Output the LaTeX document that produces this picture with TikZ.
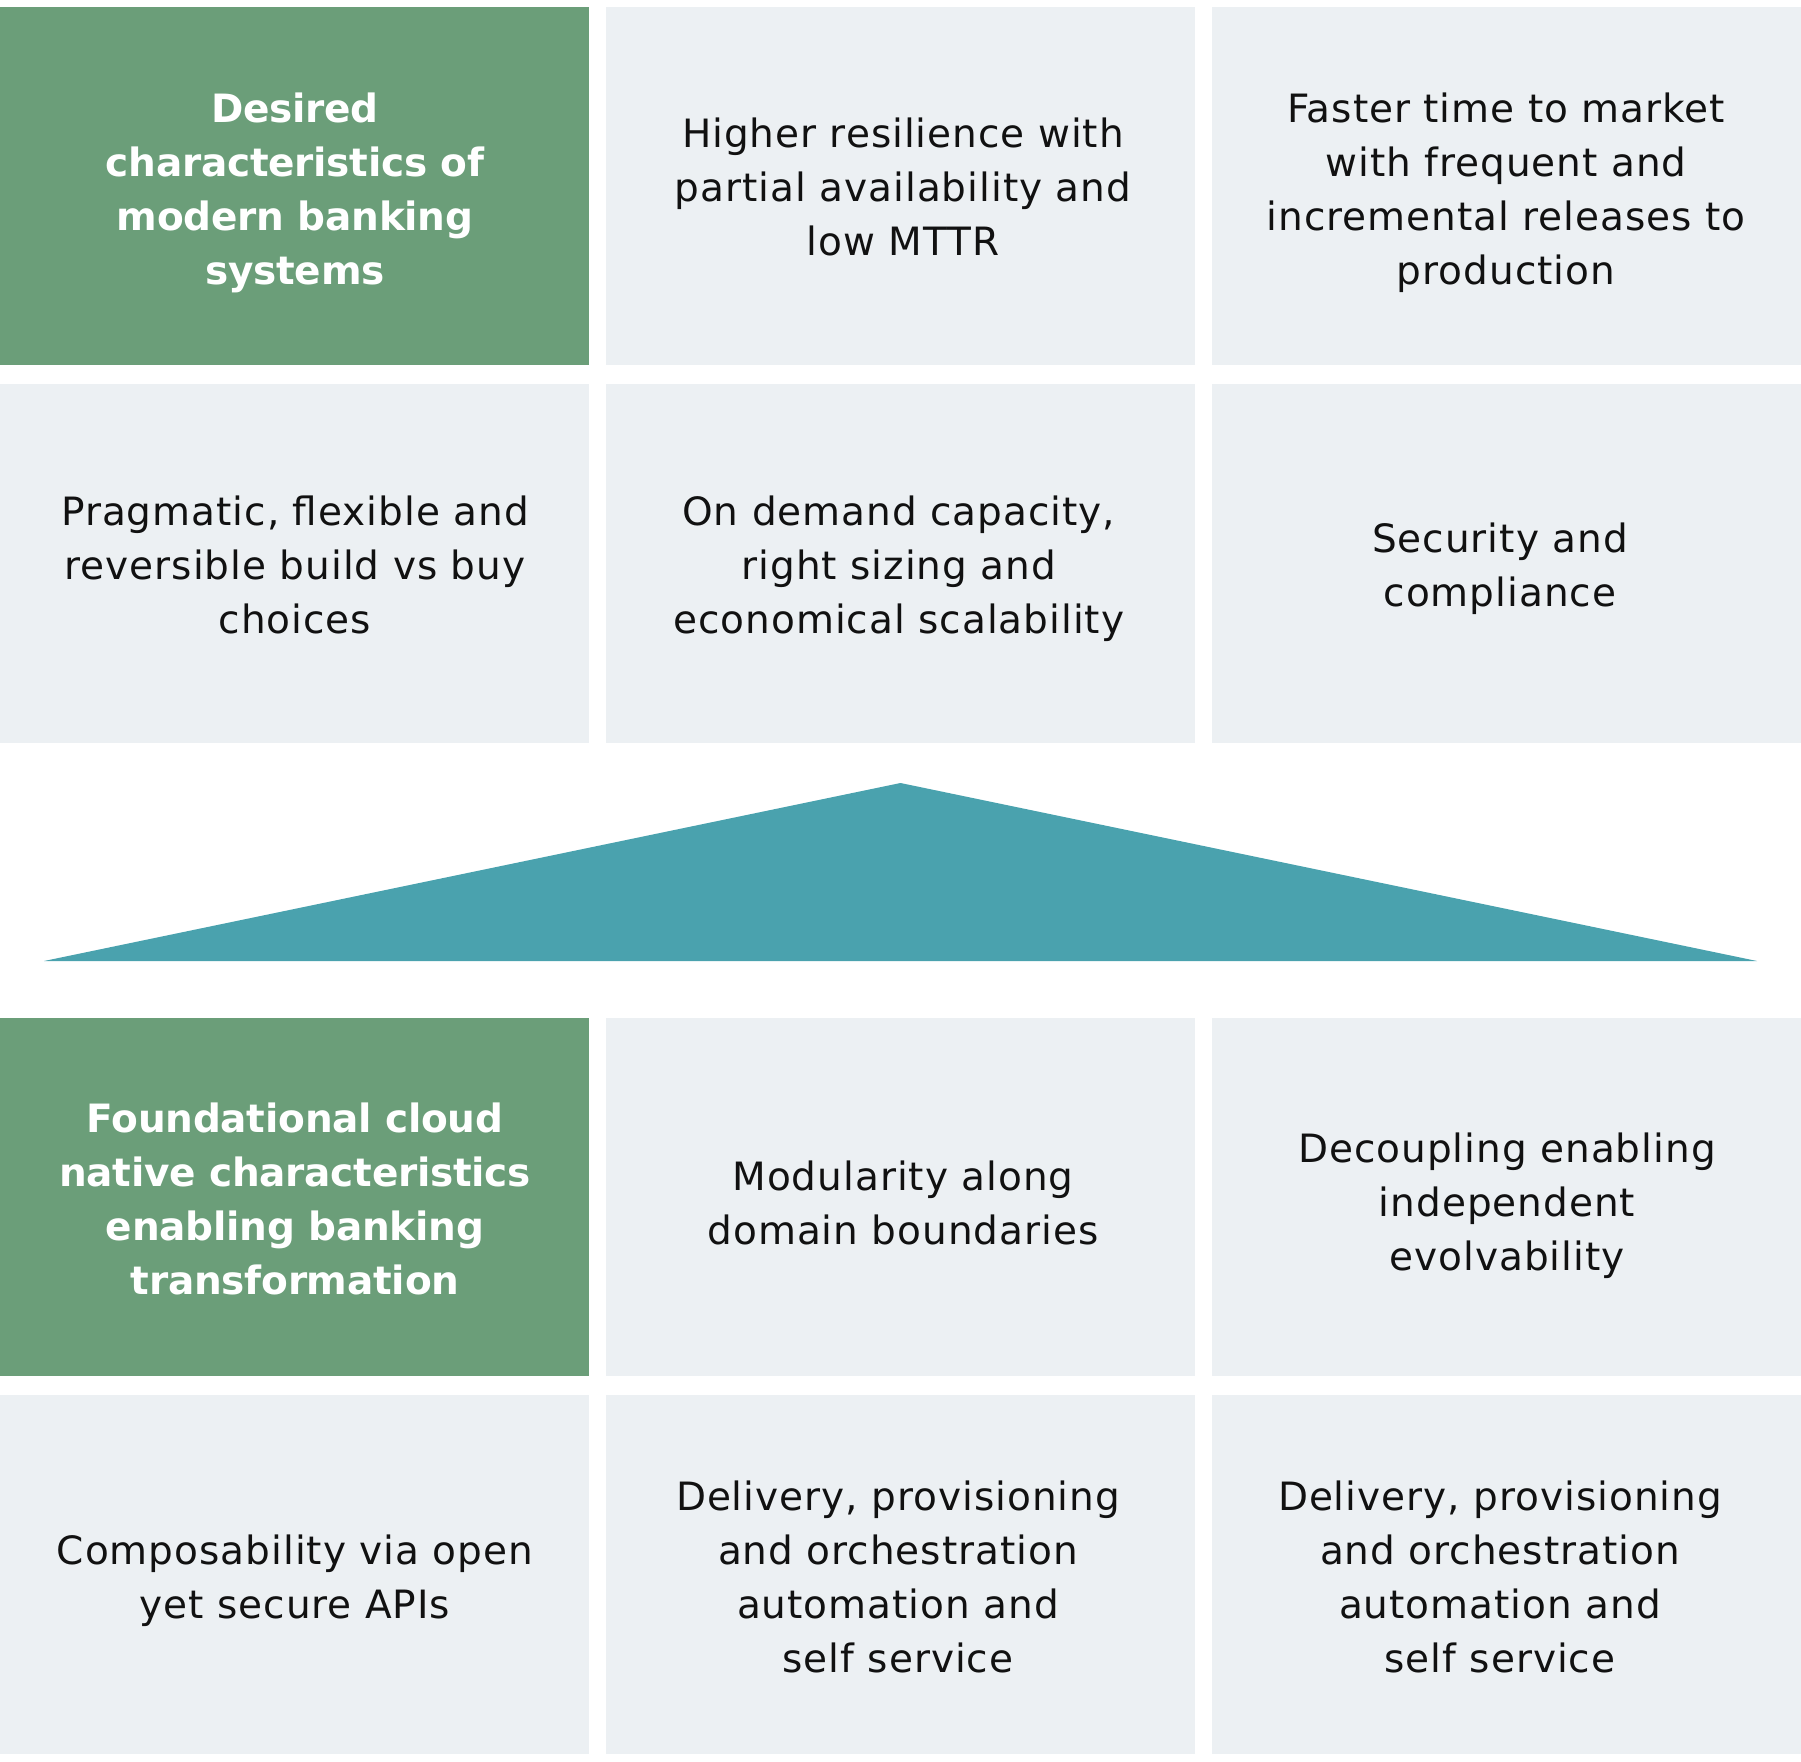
\documentclass[tikz,border=0pt]{standalone}
\usepackage{fontspec}
\setmainfont{DejaVu Sans}[LetterSpace=2.5,BoldFeatures={LetterSpace=-0.6}]
\definecolor{cellgreen}{HTML}{6B9E79}
\definecolor{cellgray}{HTML}{ECF0F3}
\definecolor{roofteal}{HTML}{4AA2AE}
\definecolor{inktext}{HTML}{111111}
\newcommand\dstrut{\rule[-9.5pt]{0pt}{9.5pt}}
\tikzset{
  cell/.style={rectangle, inner sep=0pt, minimum width=589pt},
  plaincell/.style={cell, fill=cellgray},
  headcell/.style={cell, fill=cellgreen},
  rowA/.style={minimum height=358pt},
  rowB/.style={minimum height=359pt},
  celltext/.style={inner sep=0pt, align=center, text=inktext,
    font=\fontsize{39}{54}\selectfont},
  headtext/.style={celltext, text=white, font=\fontsize{39}{54}\selectfont\bfseries},
}
\begin{document}
\begin{tikzpicture}[x=1pt,y=-1pt]
\useasboundingbox (0,0) rectangle (1801,1761);
% cell fills
\node[headcell,rowA]  (h1) at (294.5,186) {};
\node[plaincell,rowA] (a2) at (900.5,186) {};
\node[plaincell,rowA] (a3) at (1506.5,186) {};
\node[plaincell,rowB] (b1) at (294.5,563.5) {};
\node[plaincell,rowB] (b2) at (900.5,563.5) {};
\node[plaincell,rowB] (b3) at (1506.5,563.5) {};
\node[headcell,rowA]  (h2) at (294.5,1197) {};
\node[plaincell,rowA] (c2) at (900.5,1197) {};
\node[plaincell,rowA] (c3) at (1506.5,1197) {};
\node[plaincell,rowB] (d1) at (294.5,1574.5) {};
\node[plaincell,rowB] (d2) at (900.5,1574.5) {};
\node[plaincell,rowB] (d3) at (1506.5,1574.5) {};
% roof
\coordinate (roofL) at (44,961);
\coordinate (roofT) at (900.5,783);
\coordinate (roofR) at (1757,961);
\fill[roofteal] (roofL) -- (roofT) -- (roofR) -- cycle;
% texts
\node[headtext] (h1t) at (295,193.8) {Desired\\characteristics of\\modern banking\\systems\dstrut};
\node[celltext] (a2t) at (903,191.6) {Higher resilience with\\partial availability and\\low MTTR\dstrut};
\node[celltext] (a3t) at (1506,193.8) {Faster time to market\\with frequent and\\incremental releases to\\production\dstrut};
\node[celltext] (b1t) at (295,569.1) {Pragmatic, flexible and\\reversible build vs buy\\choices\dstrut};
\node[celltext] (b2t) at (898.8,569.1) {On demand capacity,\\right sizing and\\economical scalability\dstrut};
\node[celltext] (b3t) at (1500,569.1) {Security and\\compliance\dstrut};
\node[headtext] (h2t) at (295,1203.5) {Foundational cloud\\native characteristics\\enabling banking\\transformation\dstrut};
\node[celltext] (c2t) at (903,1207.7) {Modularity along\\domain boundaries\dstrut};
\node[celltext] (c3t) at (1507,1206.6) {Decoupling enabling\\independent\\evolvability\dstrut};
\node[celltext] (d1t) at (295,1581) {Composability via open\\yet secure APIs\dstrut};
\node[celltext] (d2t) at (898,1581) {Delivery, provisioning\\and orchestration\\automation and\\self service\dstrut};
\node[celltext] (d3t) at (1500,1581) {Delivery, provisioning\\and orchestration\\automation and\\self service\dstrut};
\end{tikzpicture}
\end{document}
